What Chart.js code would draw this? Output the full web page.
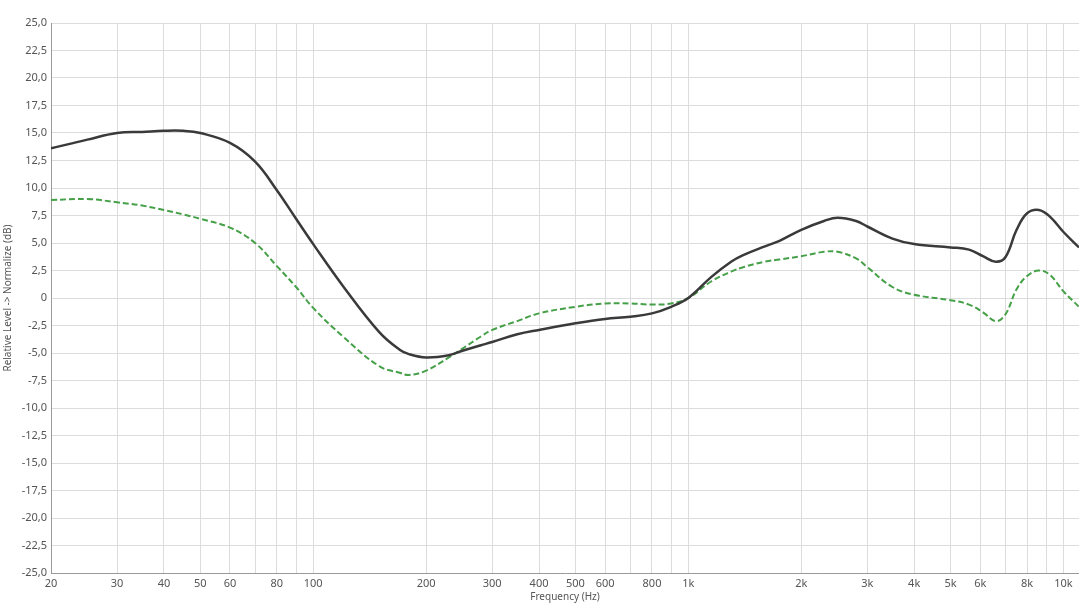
<!DOCTYPE html>
<html>
<head>
<meta charset="utf-8">
<script src="https://cdn.jsdelivr.net/npm/chart.js@4.4.1/dist/chart.umd.min.js"></script>
<style>
    body { margin: 0; background: #fff; }
    #wrap { width: 1079px; height: 605px; }
</style>
</head>
<body>
<div id="wrap"><canvas id="fr" width="1079" height="605"></canvas></div>
<script>
// Frequencies (Hz) the curves were read at
const freqs = [20, 25, 30, 35, 40, 45, 50, 60, 70, 80, 90, 100, 120, 150, 170, 180, 200, 230, 250, 280, 300, 350, 400, 500, 600, 700, 800, 900,
    1000, 1150, 1300, 1400, 1600, 1750, 2000, 2300, 2500, 2800, 3000, 3500, 4000, 5000, 5600, 6100, 6600, 7000, 7500, 8000, 8600, 9200, 10000, 11000];

// Solid dark curve (dB)
const solidLevels = [13.6, 14.4, 15.0, 15.1, 15.2, 15.2, 15.0, 14.1, 12.4, 9.8, 7.2, 4.9, 1.1, -3.1, -4.7, -5.1, -5.4, -5.2, -4.8, -4.3, -4.0, -3.3, -2.9, -2.3, -1.9, -1.7, -1.4, -0.8,
    0.0, 1.9, 3.3, 3.9, 4.7, 5.2, 6.2, 7.0, 7.3, 7.0, 6.5, 5.4, 4.9, 4.6, 4.4, 3.8, 3.3, 3.7, 6.2, 7.7, 8.0, 7.4, 6.0, 4.6];

// Dashed green curve (dB)
const dashedLevels = [8.9, 9.0, 8.7, 8.4, 8.0, 7.6, 7.2, 6.4, 5.0, 2.9, 1.0, -0.9, -3.5, -6.2, -6.8, -7.0, -6.6, -5.4, -4.6, -3.5, -2.9, -2.1, -1.4, -0.8, -0.5, -0.5, -0.6, -0.5,
    0.0, 1.5, 2.4, 2.8, 3.3, 3.5, 3.8, 4.2, 4.2, 3.6, 2.8, 1.0, 0.3, -0.2, -0.6, -1.3, -2.1, -1.5, 0.8, 2.0, 2.5, 2.1, 0.6, -0.8];

// Vertical grid lines and which of them carry a label
const gridFreqs = [20, 30, 40, 50, 60, 70, 80, 90, 100, 200, 300, 400, 500, 600, 700, 800, 900,
    1000, 2000, 3000, 4000, 5000, 6000, 7000, 8000, 9000, 10000];
const labelFreqs = [20, 30, 40, 50, 60, 80, 100, 200, 300, 400, 500, 600, 800, 1000, 2000, 3000, 4000, 5000, 6000, 8000, 10000];

const tickFont = { family: 'Noto Sans', size: 11 };
const titleFont = { family: 'Noto Sans', size: 10 };

function fmtFreq(v) {
    if (!labelFreqs.includes(v)) return '';
    return v >= 1000 ? (v / 1000) + 'k' : String(v);
}

function fmtLevel(v) {
    if (v === 0) return '0';
    return v.toFixed(1).replace('.', ',');
}

const ctx = document.getElementById('fr').getContext('2d');
new Chart(ctx, {
    type: 'line',
    data: {
        datasets: [
            {
                label: 'solid',
                data: freqs.map((f, i) => ({ x: f, y: solidLevels[i] })),
                borderColor: '#3a3a3a',
                borderWidth: 2.5,
                pointRadius: 0,
                tension: 0.4
            },
            {
                label: 'dashed',
                data: freqs.map((f, i) => ({ x: f, y: dashedLevels[i] })),
                borderColor: '#45a048',
                borderWidth: 2,
                borderDash: [6, 3],
                pointRadius: 0,
                tension: 0.4
            }
        ]
    },
    options: {
        responsive: false,
        animation: false,
        layout: { padding: { top: 23, right: 0, left: 0, bottom: 0 } },
        plugins: {
            legend: { display: false },
            tooltip: { enabled: false }
        },
        scales: {
            x: {
                type: 'logarithmic',
                min: 20,
                max: 11000,
                afterBuildTicks: s => { s.ticks = gridFreqs.map(v => ({ value: v })); },
                afterFit: s => { s.height = 32; },
                ticks: {
                    autoSkip: false,
                    maxRotation: 0,
                    padding: 4,
                    color: '#555',
                    font: tickFont,
                    callback: v => fmtFreq(v)
                },
                grid: { color: '#dcdcdc', drawTicks: false },
                border: { color: '#9a9a9a' },
                title: { display: true, text: 'Frequency (Hz)', color: '#555', font: titleFont, padding: { top: 0, bottom: 2 } }
            },
            y: {
                min: -25,
                max: 25,
                afterBuildTicks: s => {
                    const t = [];
                    for (let v = -25; v <= 25; v += 2.5) t.push({ value: v });
                    s.ticks = t;
                },
                afterFit: s => { s.width = 51; },
                ticks: {
                    padding: 4,
                    color: '#555',
                    font: tickFont,
                    callback: v => fmtLevel(v)
                },
                grid: { color: '#dcdcdc', drawTicks: false },
                border: { color: '#9a9a9a' },
                title: { display: true, text: 'Relative Level -> Normalize (dB)', color: '#555', font: titleFont, padding: { top: 2, bottom: 0 } }
            }
        }
    }
});
</script>
</body>
</html>
